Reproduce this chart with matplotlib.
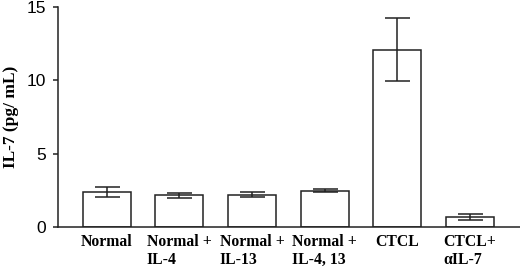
import matplotlib.pyplot as plt
import numpy as np

# data
groups = ['Normal', 'Normal +\nIL-4', 'Normal +\nIL-13', 'Normal +\nIL-4, 13', 'CTCL', 'CTCL+\n\u03b1IL-7']
il7 = [2.4, 2.15, 2.2, 2.48, 12.1, 0.7]
err = [0.36, 0.18, 0.17, 0.1, 2.15, 0.22]

fig = plt.figure(figsize=(5.2, 2.67), dpi=100)
ax = fig.add_axes([58 / 520, 40 / 267, 1 - 58 / 520, 220 / 267])

x = np.arange(len(groups))
ax.bar(x, il7, width=0.66, color='white', edgecolor='#222222', linewidth=1.1, zorder=2)
ax.errorbar(x, il7, yerr=err, fmt='none', ecolor='#222222', elinewidth=1.1,
            capsize=9, capthick=1.1, zorder=3)

ax.set_xlim(-0.67, 5.69)
ax.set_ylim(0, 15)
ax.set_yticks([0, 5, 10, 15])
ax.set_xticks(x)
ax.set_xticklabels(groups, family='Liberation Serif', fontweight='bold', fontsize=11.3,
                   multialignment='left', linespacing=1.2)
for lab in ax.get_yticklabels():
    lab.set_family('Liberation Sans')
    lab.set_fontsize(12.5)
ax.tick_params(axis='x', length=0, pad=5)
ax.tick_params(axis='y', length=3.5, width=1.1, pad=5, color='#222222')

ax.set_ylabel('IL-7 (pg/ mL)', family='Liberation Serif', fontweight='bold', fontsize=12.5)
ax.yaxis.set_label_coords(-0.085, 0.5)

for s in ['top', 'right']:
    ax.spines[s].set_visible(False)
for s in ['left', 'bottom']:
    ax.spines[s].set_linewidth(1.1)
    ax.spines[s].set_color('#222222')

fig.savefig('out.png', dpi=100)
